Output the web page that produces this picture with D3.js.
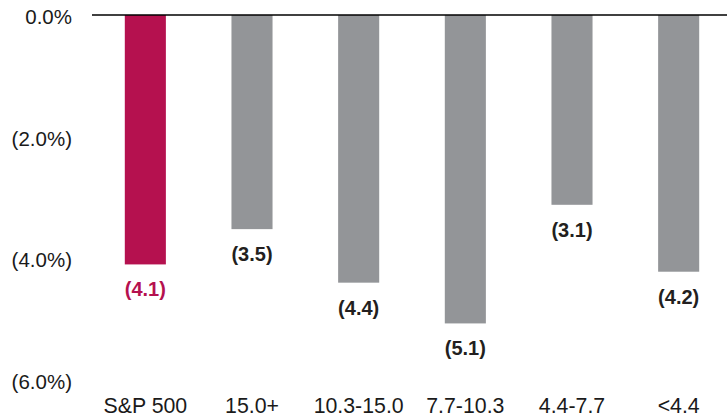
<!DOCTYPE html>
<html><head><meta charset="utf-8">
<script src="https://cdn.jsdelivr.net/npm/d3@7"></script>
<style>html,body{margin:0;padding:0;background:#fff;}svg{display:block;font-family:"Liberation Sans",Arial,sans-serif;}</style>
</head><body><svg id="c" width="727" height="418"></svg>
<script>
const categories = ["S&P 500","15.0+","10.3-15.0","7.7-10.3","4.4-7.7","<4.4"];
const values = [-4.1,-3.52,-4.4,-5.07,-3.12,-4.22];
const labels = ["(4.1)","(3.5)","(4.4)","(5.1)","(3.1)","(4.2)"];
const yTicks = [0,-2,-4,-6];
const yTickLabels = ["0.0%","(2.0%)","(4.0%)","(6.0%)"];
const highlight = "S&P 500";

const svg = d3.select("#c");
const x = d3.scaleBand().domain(categories).range([92,732]).paddingInner(0.615).paddingOuter(0.3075);
const y = d3.scaleLinear().domain([0,-6]).range([15,380]);

svg.append("g").selectAll("rect").data(categories).join("rect")
  .attr("x", d=>x(d)).attr("width", x.bandwidth())
  .attr("y", y(0)).attr("height", (d,i)=>y(values[i])-y(0))
  .attr("fill", d=>d===highlight?"#B5114F":"#939598");

svg.append("line").attr("x1",92).attr("x2",727).attr("y1",y(0)).attr("y2",y(0))
  .attr("stroke","#000").attr("stroke-width",1.5);

const yAxis = d3.axisLeft(y).tickValues(yTicks).tickSize(0).tickPadding(0)
  .tickFormat((d,i)=>yTickLabels[i]);
const ga = svg.append("g").attr("transform","translate(72,2)").call(yAxis);
ga.select(".domain").remove();
ga.selectAll("text").attr("font-size","20.5px").attr("fill","#1a1a1a").attr("font-family","'Liberation Sans',Arial,sans-serif");

const xAxis = d3.axisBottom(x).tickSize(0).tickPadding(0);
const gx = svg.append("g").attr("transform","translate(0,398)").call(xAxis);
gx.select(".domain").remove();
gx.selectAll("text").attr("font-size","21.3px").attr("fill","#1a1a1a").attr("font-family","'Liberation Sans',Arial,sans-serif");

svg.append("g").selectAll("text").data(categories).join("text")
  .attr("x", d=>x(d)+x.bandwidth()/2)
  .attr("y", (d,i)=>y(values[i])+25)
  .attr("text-anchor","middle").attr("dominant-baseline","central")
  .attr("font-size","20px").attr("font-weight","bold")
  .attr("fill", d=>d===highlight?"#B5114F":"#231F20")
  .text((d,i)=>labels[i]);
</script></body></html>
